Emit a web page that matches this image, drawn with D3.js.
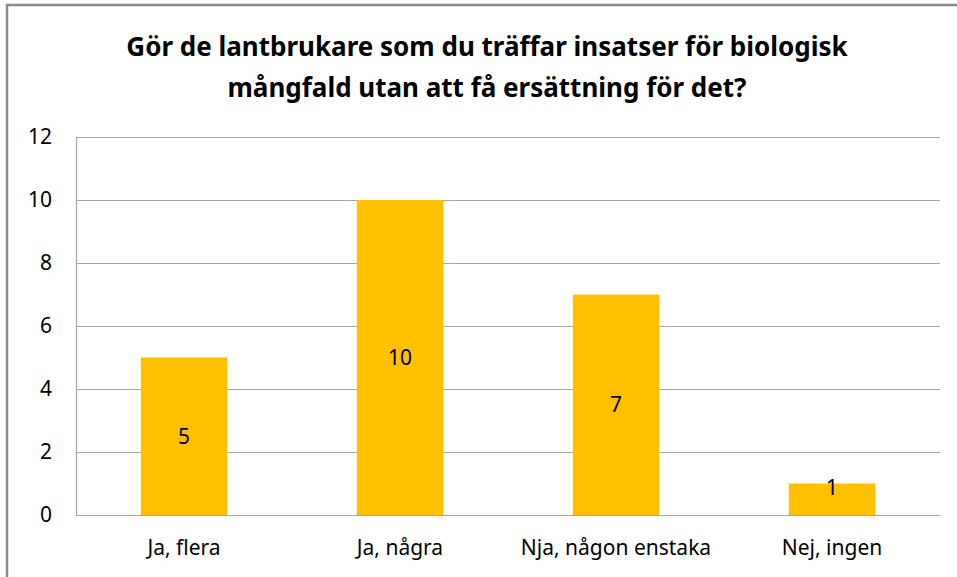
<!DOCTYPE html>
<html>
<head>
<meta charset="utf-8">
<script src="https://cdn.jsdelivr.net/npm/d3@7"></script>
<style>
  body { margin: 0; background: #fff; }
  text { font-family: "Noto Sans", sans-serif; fill: #000; }
</style>
</head>
<body>
<svg id="chart"></svg>
<script>
const categories = ["Ja, flera", "Ja, några", "Nja, någon enstaka", "Nej, ingen"];
const values = [5, 10, 7, 1];
const yTicks = [0, 2, 4, 6, 8, 10, 12];
const titleLines = [
  "Gör de lantbrukare som du träffar insatser för biologisk",
  "mångfald utan att få ersättning för det?"
];

const width = 957;
const height = 577;
const svg = d3.select("#chart").attr("width", width).attr("height", height);

// chart frame
svg.append("rect")
  .attr("x", 7).attr("y", 5)
  .attr("width", width + 10).attr("height", height + 10)
  .attr("fill", "#fff")
  .attr("stroke", "#8c8c8c")
  .attr("stroke-width", 2.5);

const margin = { top: 137, right: 17, bottom: 62, left: 76 };
const innerW = width - margin.left - margin.right;
const innerH = 515 - margin.top;

const g = svg.append("g").attr("transform", `translate(${margin.left},${margin.top})`);

const x = d3.scaleBand().domain(categories).range([0, innerW]).paddingInner(0.6).paddingOuter(0.3);
const y = d3.scaleLinear().domain([0, 12]).range([innerH, 0]);

// gridlines
g.append("g").selectAll("line")
  .data(yTicks)
  .join("line")
  .attr("x1", 0).attr("x2", innerW)
  .attr("y1", d => y(d) + 0.5).attr("y2", d => y(d) + 0.5)
  .attr("stroke", "#a6a6a6")
  .attr("stroke-width", 1.2);

// y axis
const yAxis = g.append("g")
  .call(d3.axisLeft(y).tickValues(yTicks).tickSize(0).tickPadding(24));
yAxis.select(".domain").attr("stroke", "#a6a6a6").attr("stroke-width", 1.2);
yAxis.selectAll("text").style("font-size", "21px").style("font-family", "Noto Sans, sans-serif");

// bars
g.append("g").selectAll("rect")
  .data(values)
  .join("rect")
  .attr("x", (d, i) => x(categories[i]))
  .attr("y", d => y(d))
  .attr("width", x.bandwidth())
  .attr("height", d => innerH - y(d))
  .attr("fill", "#ffc000");

// x axis line + labels
const xAxis = g.append("g")
  .attr("transform", `translate(0,${innerH})`)
  .call(d3.axisBottom(x).tickSize(0).tickPadding(25));
xAxis.select(".domain").attr("stroke", "#a6a6a6").attr("stroke-width", 1.2);
xAxis.selectAll("text").style("font-size", "21px").style("font-family", "Noto Sans, sans-serif");

// data labels (centred; short bars nudged up like the original)
g.append("g").selectAll("text")
  .data(values)
  .join("text")
  .attr("x", (d, i) => x(categories[i]) + x.bandwidth() / 2)
  .attr("y", d => Math.min((y(d) + innerH) / 2, innerH - 27))
  .attr("dy", "0.35em")
  .attr("text-anchor", "middle")
  .style("font-size", "21px")
  .text(d => d);

// title
svg.append("g").selectAll("text")
  .data(titleLines)
  .join("text")
  .attr("x", 487)
  .attr("y", (d, i) => 56 + i * 41)
  .attr("text-anchor", "middle")
  .style("font-size", "26px")
  .style("font-weight", "bold")
  .text(d => d);
</script>
</body>
</html>
